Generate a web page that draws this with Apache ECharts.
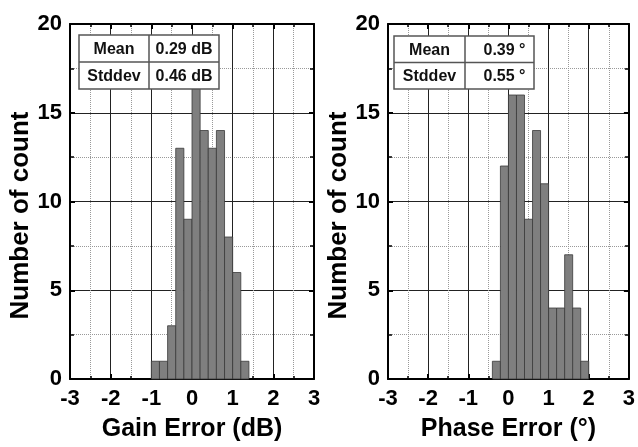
<!DOCTYPE html>
<html><head><meta charset="utf-8">
<script src="https://cdn.jsdelivr.net/npm/echarts@6/dist/echarts.min.js"></script>
<style>html,body{margin:0;padding:0;background:#fff}#c{width:638px;height:447px}</style>
</head><body><div id="c"></div>
<script>
const binWidth = 0.2;
const gainBinStarts = [-1.0,-0.8,-0.6,-0.4,-0.2,0.0,0.2,0.4,0.6,0.8,1.0,1.2];
const gainCounts    = [1,1,3,13,9,17,14,13,14,8,6,1];
const phaseBinStarts = [-0.4,-0.2,0.0,0.2,0.4,0.6,0.8,1.0,1.2,1.4,1.6,1.8];
const phaseCounts    = [1,12,16,16,9,14,11,4,4,7,4,1];
const gainStats  = [['Mean','0.29 dB'],['Stddev','0.46 dB']];
const phaseStats = [['Mean','0.39 °'],['Stddev','0.55 °']];
const xNames = ['Gain Error (dB)','Phase Error (°)'];
const yName = 'Number of count';

const FONT = 'Liberation Sans, Arial, sans-serif';
const chart = echarts.init(document.getElementById('c'), null, {renderer:'canvas'});

const grids = [
  {left:70, top:24, width:244, height:361},
  {left:388, top:24, width:244, height:361}
];

function mainX(g, name){
  return {type:'value', gridIndex:g, min:-3, max:3, interval:1, position:'bottom',
    axisLine:{show:true, onZero:false, lineStyle:{color:'#000', width:2}},
    axisTick:{show:true, inside:true, length:5, lineStyle:{color:'#000', width:2}},
    minorTick:{show:true, splitNumber:2, length:3, lineStyle:{color:'#000', width:1.5}},
    splitLine:{show:true, lineStyle:{color:'#222', width:1}},
    minorSplitLine:{show:true, lineStyle:{color:'#999', width:1, type:'dotted'}},
    axisLabel:{fontFamily:FONT, fontWeight:'bold', fontSize:22, color:'#000', margin:9},
    name:name, nameLocation:'middle', nameGap:38,
    nameTextStyle:{fontFamily:FONT, fontWeight:'bold', fontSize:25, color:'#000'}
  };
}
function topX(g){
  return {type:'value', gridIndex:g, min:-3, max:3, interval:1, position:'top',
    axisLine:{show:true, onZero:false, lineStyle:{color:'#000', width:2}},
    axisTick:{show:true, inside:true, length:5, lineStyle:{color:'#000', width:2}},
    minorTick:{show:true, splitNumber:2, length:3, lineStyle:{color:'#000', width:1.5}},
    splitLine:{show:false}, axisLabel:{show:false}
  };
}
function mainY(g){
  return {type:'value', gridIndex:g, min:0, max:20, interval:5, position:'left',
    axisLine:{show:true, onZero:false, lineStyle:{color:'#000', width:2}},
    axisTick:{show:true, inside:true, length:5, lineStyle:{color:'#000', width:2}},
    minorTick:{show:true, splitNumber:2, length:4, lineStyle:{color:'#000', width:1.5}},
    splitLine:{show:true, lineStyle:{color:'#222', width:1}},
    minorSplitLine:{show:true, lineStyle:{color:'#999', width:1, type:'dotted'}},
    axisLabel:{fontFamily:FONT, fontWeight:'bold', fontSize:22, color:'#000', margin:8},
    name:yName, nameLocation:'middle', nameGap:26, nameRotate:90,
    nameTextStyle:{fontFamily:FONT, fontWeight:'bold', fontSize:26, color:'#000', padding:[0,28,0,0]}
  };
}
function rightY(g){
  return {type:'value', gridIndex:g, min:0, max:20, interval:5, position:'right',
    axisLine:{show:true, onZero:false, lineStyle:{color:'#000', width:2}},
    axisTick:{show:true, inside:true, length:5, lineStyle:{color:'#000', width:2}},
    minorTick:{show:true, splitNumber:2, length:4, lineStyle:{color:'#000', width:1.5}},
    splitLine:{show:false}, axisLabel:{show:false}
  };
}

function histSeries(starts, counts, xi, yi){
  return {type:'custom', xAxisIndex:xi, yAxisIndex:yi,
    data: starts.map((s,i)=>[s, counts[i]]),
    renderItem:function(params, api){
      const x0 = api.value(0), y = api.value(1);
      const p0 = api.coord([x0, y]);
      const p1 = api.coord([x0 + binWidth, 0]);
      return {type:'rect', shape:{x:p0[0], y:p0[1], width:p1[0]-p0[0], height:p1[1]-p0[1]},
        style:{fill:'#7f7f7f', stroke:'#3a3a3a', lineWidth:0.8}};
    }
  };
}

function table(x, y, w1, w2, h, rows, valOffset){
  const els = [];
  const W = w1 + w2, H = h*rows.length;
  els.push({type:'rect', shape:{x:x, y:y, width:W, height:H}, style:{fill:'#fff', stroke:'#555', lineWidth:1.5}, z:100});
  els.push({type:'line', shape:{x1:x+w1, y1:y, x2:x+w1, y2:y+H}, style:{stroke:'#555', lineWidth:1.5}, z:101});
  for(let r=1;r<rows.length;r++){
    els.push({type:'line', shape:{x1:x, y1:y+h*r, x2:x+W, y2:y+h*r}, style:{stroke:'#555', lineWidth:1.5}, z:101});
  }
  rows.forEach((row,r)=>{
    els.push({type:'text', x:x+w1/2, y:y+h*r+h/2+1, z:102,
      style:{text:row[0], fill:'#111', font:'bold 16px '+FONT, textAlign:'center', textVerticalAlign:'middle'}});
    els.push({type:'text', x:x+w1+w2/2+valOffset, y:y+h*r+h/2+1, z:102,
      style:{text:row[1], fill:'#111', font:'bold 16px '+FONT, textAlign:'center', textVerticalAlign:'middle'}});
  });
  return els;
}

chart.setOption({
  animation:false,
  backgroundColor:'#fff',
  grid: grids,
  xAxis:[mainX(0, xNames[0]), topX(0), mainX(1, xNames[1]), topX(1)],
  yAxis:[mainY(0), rightY(0), mainY(1), rightY(1)],
  series:[histSeries(gainBinStarts, gainCounts, 0, 0), histSeries(phaseBinStarts, phaseCounts, 2, 2)],
  graphic: table(79, 35, 70, 70, 27, gainStats, 0).concat(table(394, 36, 71, 69, 26.5, phaseStats, 5))
});
</script></body></html>
